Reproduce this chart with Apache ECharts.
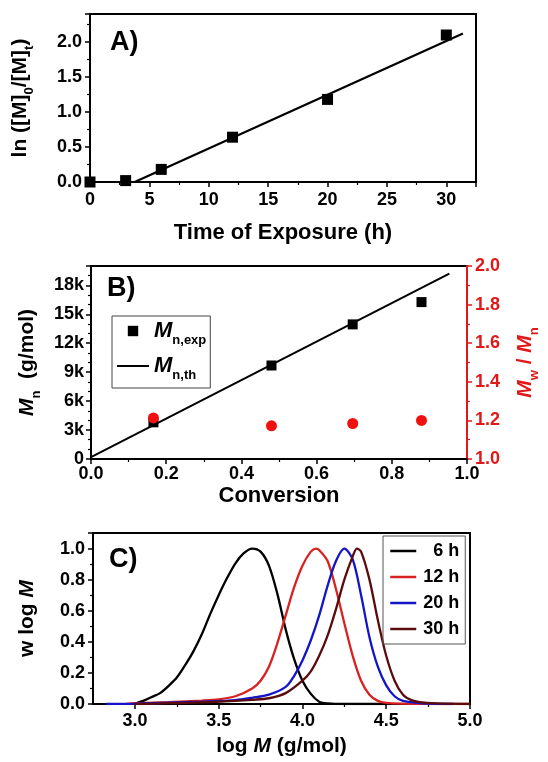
<!DOCTYPE html>
<html>
<head>
<meta charset="utf-8" />
<title>polymerization</title>
<script src="https://cdn.jsdelivr.net/npm/echarts@6/dist/echarts.min.js"></script>
</head>
<body style="margin:0">
<div id="container" style="width:548px;height:762px"></div>
<script>
// A) ln([M]0/[M]t) vs time
var timeA = [0, 3, 6, 12, 20, 30];
var lnA = [0.0, 0.02, 0.18, 0.64, 1.18, 2.10];
var fitA = [[3.76, 0], [31.4, 2.12]];

// B) Mn and dispersity vs conversion
var convB = [0.166, 0.48, 0.696, 0.879];
var mnExp = [3800, 9690, 13950, 16260];
var pdiB = [1.213, 1.172, 1.184, 1.20];
var mnTh = [[0, 200], [0.953, 19200]];

// C) GPC traces, [log M, w log M]
var gpc6 = [[2.99,0],[3.05,0.02],[3.10,0.045],[3.15,0.07],[3.20,0.115],[3.25,0.17],[3.30,0.25],[3.35,0.34],[3.40,0.45],[3.45,0.58],[3.50,0.70],[3.55,0.81],[3.60,0.905],[3.65,0.97],[3.70,1.0],[3.75,0.98],[3.80,0.89],[3.85,0.71],[3.90,0.48],[3.95,0.29],[4.00,0.15],[4.05,0.065],[4.10,0.015],[4.15,0.004],[4.25,0],[4.5,0]];
var gpc12 = [[2.95,0],[3.0,0.005],[3.2,0.012],[3.4,0.022],[3.5,0.03],[3.6,0.05],[3.7,0.1],[3.75,0.15],[3.8,0.24],[3.85,0.39],[3.9,0.57],[3.95,0.75],[4.0,0.89],[4.05,0.98],[4.08,1.0],[4.1,0.99],[4.15,0.92],[4.2,0.74],[4.25,0.52],[4.3,0.31],[4.35,0.15],[4.4,0.06],[4.45,0.02],[4.5,0.007],[4.6,0.002],[4.8,0],[5.0,0]];
var gpc20 = [[2.83,0],[3.0,0.002],[3.2,0.008],[3.4,0.015],[3.6,0.025],[3.7,0.04],[3.8,0.06],[3.9,0.11],[3.95,0.18],[4.0,0.28],[4.05,0.41],[4.1,0.57],[4.15,0.76],[4.2,0.92],[4.25,1.0],[4.3,0.93],[4.35,0.70],[4.4,0.43],[4.45,0.24],[4.5,0.12],[4.55,0.05],[4.6,0.02],[4.7,0.006],[4.8,0.001],[4.9,0]];
var gpc30 = [[3.0,0],[3.2,0.005],[3.4,0.01],[3.6,0.02],[3.7,0.027],[3.8,0.037],[3.9,0.07],[4.0,0.15],[4.05,0.21],[4.1,0.31],[4.15,0.44],[4.2,0.61],[4.25,0.8],[4.3,0.95],[4.325,1.0],[4.35,0.98],[4.4,0.8],[4.45,0.54],[4.5,0.31],[4.55,0.15],[4.6,0.06],[4.65,0.025],[4.7,0.012],[4.8,0.004],[5.0,0]];
var gpcNames = ['6 h', '12 h', '20 h', '30 h'];
var gpcColors = ['#000000', '#d82222', '#1414c8', '#5a0c0c'];

var xTicksC = [3.0, 3.5, 4.0, 4.5, 5.0];
var xMinorC = [3.25, 3.75, 4.25, 4.75];

function pairs(xs, ys) {
    var out = [];
    for (var i = 0; i < xs.length; i++) out.push([xs[i], ys[i]]);
    return out;
}

var FONT = '"Liberation Sans", Arial, sans-serif';
var black = '#000';
var red = '#e01818';

// rich styles for axis names with sub-scripts
function richSet(color) {
    return {
        a: {fontSize: 21, fontWeight: 'bold', fontFamily: FONT, color: color, lineHeight: 24, verticalAlign: 'top'},
        mi: {fontSize: 21, fontWeight: 'bold', fontStyle: 'italic', fontFamily: FONT, color: color, lineHeight: 24, verticalAlign: 'top'},
        s: {fontSize: 13, fontWeight: 'bold', fontFamily: FONT, color: color, lineHeight: 14, padding: [13, 0, 0, 0], verticalAlign: 'top'}
    };
}

function axisBase(color) {
    return {
        axisLine: {show: true, onZero: false, lineStyle: {color: color, width: 2}},
        axisTick: {show: true, inside: false, length: 5, lineStyle: {color: color, width: 1.5}},
        minorTick: {show: true, splitNumber: 2, length: 3, lineStyle: {color: color, width: 1.2}},
        splitLine: {show: false},
        axisLabel: {color: color, fontSize: 18, fontWeight: 'bold', fontFamily: FONT, margin: 8, showMaxLabel: false}
    };
}

function merge(a, b) {
    for (var k in b) a[k] = b[k];
    return a;
}

var gridStyle = {show: true, borderColor: black, borderWidth: 2, backgroundColor: 'transparent', outerBoundsMode: 'none', containLabel: false};

var dom = document.getElementById('container');
var myChart = echarts.init(dom, null, {renderer: 'canvas'});

var option = {
    backgroundColor: '#fff',
    animation: false,
    textStyle: {fontFamily: FONT},
    title: [
        {text: 'A)', left: 105, top: 24, textStyle: {fontSize: 27, fontWeight: 'bold', fontFamily: FONT, color: black}},
        {text: 'B)', left: 102, top: 270, textStyle: {fontSize: 27, fontWeight: 'bold', fontFamily: FONT, color: black}},
        {text: 'C)', left: 104, top: 541, textStyle: {fontSize: 27, fontWeight: 'bold', fontFamily: FONT, color: black}}
    ],
    grid: [
        merge({left: 90, top: 14, width: 386, height: 168}, gridStyle),
        merge({left: 91, top: 266, width: 376, height: 193}, gridStyle),
        merge({left: 93, top: 533, width: 377, height: 171}, gridStyle)
    ],
    legend: [
        {
            left: 112, top: 316, orient: 'vertical',
            data: [{name: 'Mn,exp'}, {name: 'Mn,th', itemStyle: {opacity: 0}}],
            itemWidth: 32, itemHeight: 13, itemGap: 8,
            padding: [4, 4, 6, 4],
            borderColor: '#444', borderWidth: 1,
            formatter: function (name) {
                return name === 'Mn,exp' ? '{mi|M}{s|n,exp}' : '{mi|M}{s|n,th}';
            },
            textStyle: {rich: {
                mi: {fontSize: 22, fontWeight: 'bold', fontStyle: 'italic', fontFamily: FONT, color: black, lineHeight: 22, verticalAlign: 'top'},
                s: {fontSize: 13, fontWeight: 'bold', fontFamily: FONT, color: black, lineHeight: 14, padding: [14, 0, 0, 0], verticalAlign: 'top'}
            }}
        },
        {
            left: 383, top: 536, orient: 'vertical',
            data: gpcNames,
            itemWidth: 26, itemHeight: 16, itemGap: 8,
            padding: [6, 6, 6, 6],
            borderColor: '#555', borderWidth: 1,
            itemStyle: {opacity: 0},
            lineStyle: {width: 2.5},
            formatter: function (name) { return '{t|' + name + '}'; },
            textStyle: {rich: {
                t: {fontSize: 18, fontWeight: 'bold', fontFamily: FONT, color: black, width: 38, align: 'right'}
            }}
        }
    ],
    xAxis: [
        merge(axisBase(black), {
            gridIndex: 0, type: 'value', min: 0, max: 32.5, interval: 5,
            name: 'Time of Exposure (h)', nameLocation: 'middle', nameGap: 40,
            nameTextStyle: {fontSize: 22, fontWeight: 'bold', fontFamily: FONT, color: black},
            axisLabel: {color: black, fontSize: 18, fontWeight: 'bold', fontFamily: FONT, margin: 9, showMaxLabel: false}
        }),
        merge(axisBase(black), {
            gridIndex: 1, type: 'value', min: 0, max: 1, interval: 0.2,
            name: 'Conversion', nameLocation: 'middle', nameGap: 26,
            nameTextStyle: {fontSize: 22, fontWeight: 'bold', fontFamily: FONT, color: black},
            axisLabel: {color: black, fontSize: 18, fontWeight: 'bold', fontFamily: FONT, margin: 6,
                formatter: function (v) { return v.toFixed(1); }}
        }),
        merge(axisBase(black), {
            gridIndex: 2, type: 'value', min: 2.75, max: 5,
            name: '{a|log }{mi|M}{a| (g/mol)}', nameLocation: 'middle', nameGap: 32,
            nameTextStyle: {rich: richSet(black)},
            minorTick: {show: false},
            axisTick: {show: true, length: 5, customValues: xTicksC, lineStyle: {color: black, width: 1.5}},
            axisLabel: {color: black, fontSize: 18, fontWeight: 'bold', fontFamily: FONT, margin: 8,
                customValues: xTicksC, formatter: function (v) { return v.toFixed(1); }}
        }),
        {
            gridIndex: 2, type: 'value', min: 2.75, max: 5, position: 'bottom',
            axisLine: {show: false}, splitLine: {show: false},
            axisLabel: {show: false},
            axisTick: {show: true, length: 3, customValues: xMinorC, lineStyle: {color: black, width: 1.2}}
        }
    ],
    yAxis: [
        merge(axisBase(black), {
            gridIndex: 0, type: 'value', min: 0, max: 2.4, interval: 0.5,
            name: '{a|ln ([M]}{s|0}{a|/[M]}{s|t}{a|)}', nameLocation: 'middle', nameGap: 56,
            nameTextStyle: {rich: richSet(black)},
            axisLabel: {color: black, fontSize: 18, fontWeight: 'bold', fontFamily: FONT, margin: 8, showMaxLabel: false,
                formatter: function (v) { return v.toFixed(1); }}
        }),
        merge(axisBase(black), {
            gridIndex: 1, type: 'value', min: 0, max: 20000, interval: 3000,
            minorTick: {show: true, splitNumber: 3, length: 3, lineStyle: {color: black, width: 1.2}},
            name: '{mi|M}{s|n}{a|  (g/mol)}', nameLocation: 'middle', nameGap: 50,
            nameTextStyle: {rich: richSet(black)},
            axisLabel: {color: black, fontSize: 18, fontWeight: 'bold', fontFamily: FONT, margin: 7, showMaxLabel: false,
                formatter: function (v) { return v === 0 ? '0' : (v / 1000) + 'k'; }}
        }),
        merge(axisBase(red), {
            gridIndex: 1, type: 'value', position: 'right', min: 1.0, max: 2.0, interval: 0.2,
            name: '{mi|M}{s|w}{a| / }{mi|M}{s|n}', nameLocation: 'middle', nameGap: 48, nameRotate: 90,
            nameTextStyle: {rich: richSet(red)},
            axisLabel: {color: red, fontSize: 18, fontWeight: 'bold', fontFamily: FONT, margin: 8,
                formatter: function (v) { return v.toFixed(1); }}
        }),
        merge(axisBase(black), {
            gridIndex: 2, type: 'value', min: 0, max: 1.1, interval: 0.2,
            name: '{a|w log }{mi|M}', nameLocation: 'middle', nameGap: 52,
            nameTextStyle: {rich: richSet(black)},
            axisLabel: {color: black, fontSize: 18, fontWeight: 'bold', fontFamily: FONT, margin: 8, showMaxLabel: false,
                formatter: function (v) { return v.toFixed(1); }}
        })
    ],
    series: [
        {type: 'line', xAxisIndex: 0, yAxisIndex: 0, data: fitA, showSymbol: false, symbol: 'none',
            lineStyle: {color: black, width: 2.2}, z: 2},
        {type: 'scatter', xAxisIndex: 0, yAxisIndex: 0, data: pairs(timeA, lnA), symbol: 'rect', symbolSize: 11,
            itemStyle: {color: black, opacity: 1}, z: 3},

        {name: 'Mn,th', type: 'line', xAxisIndex: 1, yAxisIndex: 1, data: mnTh, symbol: 'none',
            lineStyle: {color: black, width: 2}, itemStyle: {color: black}, z: 2},
        {name: 'Mn,exp', type: 'line', xAxisIndex: 1, yAxisIndex: 1, data: pairs(convB, mnExp), symbol: 'rect', symbolSize: 10,
            lineStyle: {width: 0, opacity: 0}, itemStyle: {color: black, opacity: 1}, z: 3},
        {type: 'scatter', xAxisIndex: 1, yAxisIndex: 2, data: pairs(convB, pdiB), symbol: 'circle', symbolSize: 11,
            itemStyle: {color: '#f01010', opacity: 1}, z: 3},

        {name: gpcNames[0], type: 'line', xAxisIndex: 2, yAxisIndex: 3, data: gpc6, symbol: 'none', smooth: 0.3,
            lineStyle: {color: gpcColors[0], width: 2.3}, itemStyle: {color: gpcColors[0]}},
        {name: gpcNames[1], type: 'line', xAxisIndex: 2, yAxisIndex: 3, data: gpc12, symbol: 'none', smooth: 0.3,
            lineStyle: {color: gpcColors[1], width: 2.3}, itemStyle: {color: gpcColors[1]}},
        {name: gpcNames[2], type: 'line', xAxisIndex: 2, yAxisIndex: 3, data: gpc20, symbol: 'none', smooth: 0.3,
            lineStyle: {color: gpcColors[2], width: 2.3}, itemStyle: {color: gpcColors[2]}},
        {name: gpcNames[3], type: 'line', xAxisIndex: 2, yAxisIndex: 3, data: gpc30, symbol: 'none', smooth: 0.3,
            lineStyle: {color: gpcColors[3], width: 2.3}, itemStyle: {color: gpcColors[3]}}
    ]
};

myChart.setOption(option);
</script>
</body>
</html>
